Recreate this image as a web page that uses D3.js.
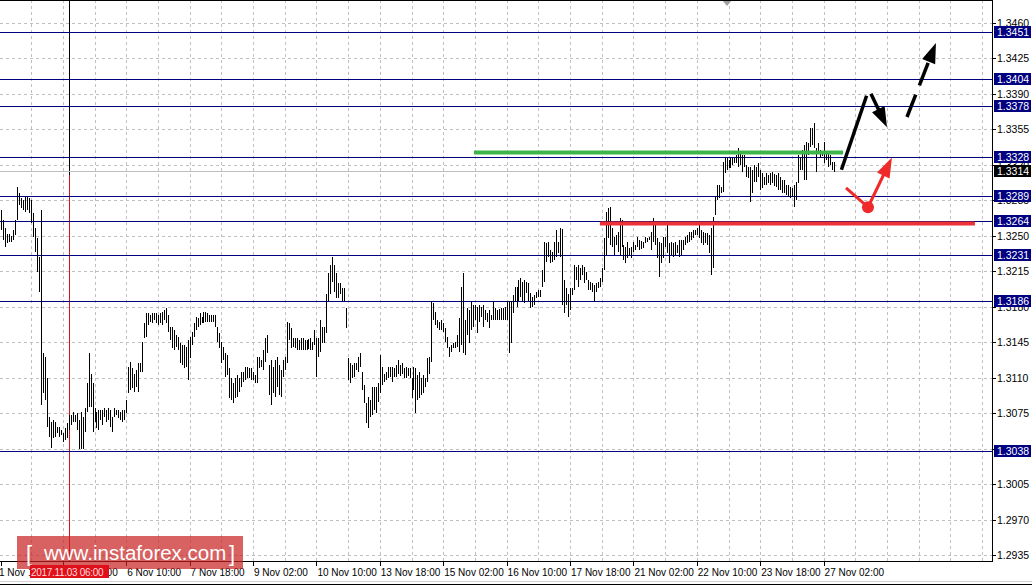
<!DOCTYPE html>
<html><head><meta charset="utf-8">
<script src="https://cdn.jsdelivr.net/npm/d3@7/dist/d3.min.js"></script>
<style>
body{margin:0;background:#fff}
svg{display:block}
text{font-family:"Liberation Sans",Arial,sans-serif}
</style>
</head><body>
<svg id="c" width="1032" height="585"></svg>
<script>
// ---- DATA (H1 bars) ----
const highs = [
1.3275,1.3265,1.3258,1.3252,1.3252,1.3250,1.3256,1.3265,1.3298,1.3292,
1.3287,1.3285,1.3288,1.3288,1.3287,1.3285,1.3272,1.3258,1.3248,1.3229,
1.3275,1.3134,1.3130,1.3110,1.3071,1.3066,1.3068,1.3066,1.3061,1.3061,
1.3058,1.3055,1.3060,1.3065,1.3073,1.3073,1.3076,1.3073,1.3075,1.3068,
1.3076,1.3071,1.3080,1.3105,1.3134,1.3114,1.3105,1.3080,1.3076,1.3078,
1.3078,1.3078,1.3080,1.3078,1.3080,1.3078,1.3071,1.3080,1.3078,1.3078,
1.3076,1.3078,1.3078,1.3088,1.3120,1.3125,1.3119,1.3114,1.3117,1.3124,
1.3124,1.3145,1.3164,1.3174,1.3174,1.3172,1.3174,1.3174,1.3174,1.3172,
1.3174,1.3175,1.3177,1.3179,1.3172,1.3160,1.3160,1.3157,1.3152,1.3150,
1.3144,1.3142,1.3142,1.3140,1.3147,1.3150,1.3155,1.3164,
1.3170,1.3169,1.3174,1.3170,1.3175,1.3175,1.3174,1.3172,1.3172,1.3172,
1.3172,1.3160,1.3154,1.3145,1.3140,1.3134,1.3132,1.3119,1.3110,1.3105,
1.3110,1.3113,1.3110,1.3115,1.3115,1.3120,1.3120,1.3119,1.3119,1.3115,
1.3113,1.3130,1.3130,1.3127,1.3137,1.3149,1.3152,1.3122,1.3127,1.3120,
1.3127,1.3130,1.3122,1.3117,1.3127,1.3130,1.3165,1.3164,1.3159,1.3149,
1.3149,1.3149,1.3147,1.3149,1.3149,1.3147,1.3147,1.3148,1.3149,1.3145,
1.3157,1.3149,1.3149,1.3167,1.3160,1.3160,1.3192,1.3213,1.3221,1.3229,
1.3221,1.3213,1.3203,1.3203,1.3198,1.3198,1.3179,1.3129,1.3124,1.3122,
1.3124,1.3124,1.3130,1.3134,1.3115,1.3103,1.3085,1.3091,1.3088,1.3101,
1.3101,1.3101,1.3105,1.3132,1.3120,1.3114,1.3115,1.3120,1.3120,1.3120,
1.3119,1.3122,1.3127,1.3122,1.3124,1.3119,1.3120,1.3119,1.3119,1.3110,
1.3120,1.3119,1.3113,1.3115,1.3110,1.3113,1.3110,1.3129,1.3130,1.3186,
1.3184,1.3175,1.3167,1.3165,1.3167,1.3164,1.3159,1.3150,1.3140,
1.3142,1.3144,1.3145,1.3152,1.3169,1.3199,1.3213,1.3167,1.3179,1.3177,
1.3185,1.3182,1.3182,1.3180,1.3182,1.3180,1.3182,1.3177,1.3174,1.3177,
1.3172,1.3186,1.3179,1.3177,1.3178,1.3179,1.3179,1.3180,1.3186,1.3186,
1.3186,1.3191,1.3199,1.3199,1.3206,1.3208,1.3204,1.3206,1.3204,1.3203,
1.3193,1.3189,1.3191,1.3194,1.3196,1.3196,1.3216,1.3244,1.3243,1.3244,
1.3236,1.3234,1.3244,1.3256,1.3244,1.3258,
1.3257,1.3206,1.3198,1.3192,1.3198,1.3198,1.3221,1.3219,1.3221,1.3218,
1.3221,1.3219,1.3214,1.3206,1.3204,1.3203,1.3201,1.3203,1.3204,1.3208,
1.3218,1.3248,1.3273,1.3277,1.3278,1.3258,1.3249,1.3251,1.3254,1.3267,
1.3265,1.3241,1.3239,1.3244,1.3238,1.3239,1.3244,1.3241,1.3249,1.3246,
1.3245,1.3244,1.3249,1.3248,1.3249,1.3254,1.3267,1.3260,1.3248,1.3244,
1.3243,1.3249,1.3249,1.3260,1.3243,1.3244,1.3243,1.3244,1.3241,1.3246,
1.3246,1.3246,1.3249,1.3251,1.3254,1.3254,1.3256,1.3256,1.3258,1.3262,
1.3256,1.3254,1.3253,1.3253,1.3251,1.3258,1.3268,
1.3288,1.3300,1.3300,1.3298,1.3323,1.3328,1.3327,1.3325,1.3327,1.3328,
1.3327,1.3330,1.3336,1.3332,1.3330,1.3330,1.3320,1.3318,1.3318,1.3315,
1.3320,1.3318,1.3322,1.3315,1.3312,1.3308,1.3312,1.3310,1.3312,1.3313,
1.3311,1.3310,1.3312,1.3308,1.3305,1.3305,1.3300,1.3300,1.3298,1.3297,
1.3300,1.3303,1.3330,1.3328,1.3334,1.3339,1.3342,1.3341,1.3356,1.3356,
1.3361,1.3336,1.3341,1.3334,1.3332,1.3342,1.3332,1.3332,1.3330,1.3323,1.3323
];
const lows = [
1.3256,1.3246,1.3239,1.3243,1.3244,1.3244,1.3246,1.3251,1.3265,1.3280,
1.3277,1.3275,1.3273,1.3275,1.3272,1.3262,1.3249,1.3234,1.3214,1.3194,
1.3083,1.3095,1.3088,1.3061,1.3051,1.3041,1.3050,1.3051,1.3055,1.3051,
1.3053,1.3046,1.3048,1.3050,1.3058,1.3063,1.3066,1.3066,1.3058,1.3040,
1.3040,1.3040,1.3056,1.3076,1.3081,1.3081,1.3056,1.3066,1.3060,1.3058,
1.3068,1.3063,1.3071,1.3066,1.3068,1.3061,1.3056,1.3071,1.3073,1.3070,
1.3068,1.3066,1.3068,1.3075,1.3095,1.3098,1.3100,1.3096,1.3101,1.3096,
1.3115,1.3115,1.3149,1.3150,1.3162,1.3165,1.3164,1.3167,1.3164,1.3162,
1.3164,1.3162,1.3167,1.3164,1.3155,1.3147,1.3139,1.3137,1.3140,1.3137,
1.3124,1.3122,1.3119,1.3120,1.3108,1.3129,1.3142,1.3150,
1.3157,1.3160,1.3162,1.3164,1.3164,1.3165,1.3165,1.3165,1.3165,1.3165,
1.3160,1.3145,1.3139,1.3124,1.3127,1.3111,1.3113,1.3090,1.3088,1.3085,
1.3090,1.3091,1.3096,1.3101,1.3106,1.3108,1.3110,1.3110,1.3108,1.3108,
1.3105,1.3105,1.3119,1.3120,1.3117,1.3125,1.3134,1.3093,1.3083,1.3095,
1.3091,1.3101,1.3093,1.3091,1.3111,1.3117,1.3124,1.3147,1.3139,1.3140,
1.3139,1.3137,1.3137,1.3137,1.3137,1.3137,1.3137,1.3138,1.3137,1.3137,
1.3142,1.3111,1.3130,1.3135,1.3144,1.3144,1.3154,1.3186,1.3192,1.3204,
1.3194,1.3188,1.3188,1.3192,1.3186,1.3186,1.3159,1.3108,1.3105,1.3110,
1.3111,1.3117,1.3115,1.3120,1.3098,1.3085,1.3065,1.3060,1.3071,1.3073,
1.3078,1.3075,1.3086,1.3095,1.3103,1.3106,1.3108,1.3110,1.3111,1.3106,
1.3111,1.3111,1.3114,1.3112,1.3114,1.3110,1.3110,1.3112,1.3110,1.3090,
1.3098,1.3075,1.3088,1.3090,1.3093,1.3095,1.3101,1.3106,1.3114,1.3125,
1.3167,1.3162,1.3159,1.3157,1.3157,1.3155,1.3145,1.3139,1.3130,
1.3135,1.3139,1.3139,1.3140,1.3135,1.3142,1.3134,1.3132,1.3152,1.3144,
1.3157,1.3160,1.3167,1.3154,1.3165,1.3170,1.3160,1.3167,1.3165,1.3159,
1.3167,1.3167,1.3167,1.3167,1.3167,1.3167,1.3167,1.3167,1.3167,1.3134,
1.3144,1.3174,1.3185,1.3180,1.3186,1.3189,1.3186,1.3184,1.3193,1.3186,
1.3179,1.3180,1.3182,1.3188,1.3189,1.3189,1.3199,1.3204,1.3224,1.3229,
1.3223,1.3224,1.3226,1.3229,1.3233,1.3229,
1.3182,1.3174,1.3182,1.3170,1.3177,1.3191,1.3196,1.3206,1.3199,1.3206,
1.3211,1.3203,1.3206,1.3196,1.3196,1.3194,1.3185,1.3194,1.3198,1.3199,
1.3204,1.3216,1.3231,1.3248,1.3241,1.3239,1.3231,1.3241,1.3234,1.3231,
1.3239,1.3226,1.3223,1.3228,1.3231,1.3228,1.3234,1.3236,1.3239,1.3236,
1.3237,1.3238,1.3243,1.3244,1.3246,1.3236,1.3244,1.3241,1.3228,1.3209,
1.3223,1.3228,1.3239,1.3233,1.3223,1.3231,1.3229,1.3231,1.3233,1.3229,
1.3231,1.3236,1.3241,1.3243,1.3244,1.3246,1.3248,1.3251,1.3251,1.3248,
1.3243,1.3241,1.3243,1.3241,1.3233,1.3211,1.3218,
1.3270,1.3285,1.3287,1.3292,1.3293,1.3312,1.3315,1.3317,1.3317,1.3320,
1.3322,1.3322,1.3318,1.3320,1.3313,1.3318,1.3308,1.3307,1.3283,1.3292,
1.3303,1.3303,1.3308,1.3295,1.3297,1.3300,1.3300,1.3302,1.3300,1.3302,
1.3299,1.3298,1.3295,1.3295,1.3292,1.3292,1.3290,1.3288,1.3287,1.3288,
1.3278,1.3285,1.3302,1.3315,1.3315,1.3305,1.3305,1.3330,1.3337,1.3339,
1.3336,1.3313,1.3332,1.3327,1.3329,1.3322,1.3325,1.3318,1.3320,1.3315,1.3313
];
const priceTicks = [1.3460,1.3425,1.3390,1.3355,1.3320,1.3285,1.3250,1.3215,1.3180,1.3145,1.3110,1.3075,1.3040,1.3005,1.2970,1.2935];
const levels = [1.3451,1.3404,1.3378,1.3328,1.3289,1.3264,1.3231,1.3186,1.3038];
const lastPrice = 1.3314;
const timeTickBars = [0,31,63,95,127,159,191,223,255,287,319,351,383,415];
const timeTickLabels = ["1 Nov 19:00","3 Nov 02:00","6 Nov 10:00","7 Nov 18:00","9 Nov 02:00","10 Nov 10:00","13 Nov 18:00","15 Nov 02:00","16 Nov 10:00","17 Nov 18:00","21 Nov 02:00","22 Nov 10:00","23 Nov 18:00","27 Nov 02:00"];
const crosshairBar = 34.3, crosshairLabel = "2017.11.03 06:00";
// analysis annotations (bar index, price)
const resistanceLine = {i0:238.5, i1:424.8, p:1.3332};
const supportLine = {i0:302.1, i1:491.4, p:1.3262};
const bullPath = [[424,1.3315],[436.7,1.3388]];
const pullbackArrow = [[438.9,1.3390],[447.0,1.3357]];
const targetArrow = [[457.1,1.3367],[471.7,1.3440]];
const altDrop = [[426.3,1.3297],[437.4,1.3278]];
const altRise = [[437.4,1.3278],[449.5,1.3327]];

// ---- DRAW ----
const PW = 992, PH = 561;
const svg = d3.select("#c");
const x = d3.scaleLinear().domain([0, 415]).range([1.4, 823.6]);
const y = d3.scaleLinear().domain([1.2935, 1.3460]).range([555, 22.7]);
svg.append("rect").attr("width",1032).attr("height",585).attr("fill","#fff");
svg.append("defs").append("clipPath").attr("id","plot").append("rect").attr("width",PW).attr("height",PH);
const g = svg.append("g").attr("clip-path","url(#plot)");
const px = v => Math.round(v) + 0.5;

// grid
g.selectAll(".hg").data(priceTicks).join("line")
  .attr("x1",0).attr("x2",PW).attr("y1",d=>px(y(d))).attr("y2",d=>px(y(d)))
  .attr("stroke","#c0c0c0").attr("stroke-dasharray","3,3");
g.selectAll(".vg").data(d3.range(15, 505, 16)).join("line")
  .attr("x1",d=>px(x(d))).attr("x2",d=>px(x(d))).attr("y1",0).attr("y2",PH)
  .attr("stroke","#c0c0c0").attr("stroke-dasharray","3,3");

// vertical time marker (black at top, red through the body as in the picture)
const cx = px(x(crosshairBar));
g.append("line").attr("x1",cx).attr("x2",cx).attr("y1",0).attr("y2",175).attr("stroke","#000");
g.append("line").attr("x1",cx).attr("x2",cx).attr("y1",175).attr("y2",PH).attr("stroke","#e0101a");

// level lines
g.selectAll(".lv").data(levels).join("line")
  .attr("x1",0).attr("x2",PW).attr("y1",d=>px(y(d))).attr("y2",d=>px(y(d)))
  .attr("stroke","#000080");
g.append("line").attr("x1",0).attr("x2",PW).attr("y1",px(y(lastPrice))).attr("y2",px(y(lastPrice)))
  .attr("stroke","#c0c0c0");

// bars
g.selectAll(".bar").data(highs.map((h,i)=>({i,h,l:lows[i]}))).join("rect")
  .attr("x",d=>Math.round(x(d.i))).attr("width",1)
  .attr("y",d=>Math.round(y(d.h)))
  .attr("height",d=>Math.max(1, Math.round(y(d.l)) - Math.round(y(d.h))))
  .attr("fill","#000").attr("shape-rendering","crispEdges");

// analysis lines
g.append("line").attr("x1",x(resistanceLine.i0)).attr("x2",x(resistanceLine.i1))
  .attr("y1",y(resistanceLine.p)).attr("y2",y(resistanceLine.p))
  .attr("stroke","#3db54a").attr("stroke-width",4);
g.append("line").attr("x1",x(supportLine.i0)).attr("x2",x(supportLine.i1))
  .attr("y1",y(supportLine.p)).attr("y2",y(supportLine.p))
  .attr("stroke","#ec3237").attr("stroke-width",4);

function seg(pts, color, w, dash){
  const l = g.append("line").attr("x1",x(pts[0][0])).attr("y1",y(pts[0][1]))
    .attr("x2",x(pts[1][0])).attr("y2",y(pts[1][1]))
    .attr("stroke",color).attr("stroke-width",w).attr("stroke-linecap","butt");
  if(dash) l.attr("stroke-dasharray",dash);
  return l;
}
function arrow(pts, color, w, dash){
  const x0=x(pts[0][0]), y0=y(pts[0][1]), x1=x(pts[1][0]), y1=y(pts[1][1]);
  const dx=x1-x0, dy=y1-y0, L=Math.hypot(dx,dy), ux=dx/L, uy=dy/L;
  const hl=20, hw=7;
  const bx=x1-ux*hl, by=y1-uy*hl;
  const l = g.append("line").attr("x1",x0).attr("y1",y0).attr("x2",bx+ux*2).attr("y2",by+uy*2)
    .attr("stroke",color).attr("stroke-width",w);
  if(dash) l.attr("stroke-dasharray",dash);
  g.append("polygon").attr("points",[[x1,y1],[bx-uy*hw,by+ux*hw],[bx+uy*hw,by-ux*hw]].map(p=>p.join(",")).join(" "))
    .attr("fill",color);
}
seg(bullPath, "#000", 3.5);
arrow(pullbackArrow, "#000", 3.5);
arrow(targetArrow, "#000", 3.5, "24,10");
seg(altDrop, "#ee2a2a", 3);
arrow(altRise, "#ee2a2a", 3);
g.append("circle").attr("cx",x(altDrop[1][0])).attr("cy",y(altDrop[1][1])).attr("r",6).attr("fill","#ee2a2a");

// shift marker
svg.append("polygon").attr("points","722,0 732,0 727,6").attr("fill","#a0a0a0");

// frame
svg.append("line").attr("x1",0).attr("x2",PW).attr("y1",0.5).attr("y2",0.5).attr("stroke","#000");
svg.append("line").attr("x1",PW+0.5).attr("x2",PW+0.5).attr("y1",0).attr("y2",PH+1).attr("stroke","#000");
svg.append("line").attr("x1",0).attr("x2",PW+1).attr("y1",PH+0.5).attr("y2",PH+0.5).attr("stroke","#000");

// right axis
const ra = svg.append("g");
ra.selectAll("line").data(priceTicks).join("line")
  .attr("x1",PW+1).attr("x2",PW+4).attr("y1",d=>px(y(d))).attr("y2",d=>px(y(d))).attr("stroke","#000");
ra.selectAll("text").data(priceTicks).join("text")
  .attr("x",997).attr("y",d=>y(d)+4).attr("font-size","10.5px").attr("fill","#000")
  .text(d=>d.toFixed(4));
const lb = svg.append("g");
levels.forEach(v=>{
  lb.append("rect").attr("x",994).attr("y",Math.round(y(v))-6).attr("width",37).attr("height",12).attr("fill","#000080");
  lb.append("text").attr("x",997).attr("y",Math.round(y(v))+4).attr("font-size","10.5px").attr("fill","#fff").text(v.toFixed(4));
});
lb.append("rect").attr("x",994).attr("y",Math.round(y(lastPrice))-6).attr("width",37).attr("height",12).attr("fill","#000");
lb.append("text").attr("x",997).attr("y",Math.round(y(lastPrice))+4).attr("font-size","10.5px").attr("fill","#fff").text(lastPrice.toFixed(4));

// bottom axis
const ba = svg.append("g");
ba.selectAll("line").data(timeTickBars).join("line")
  .attr("x1",d=>px(x(d))).attr("x2",d=>px(x(d))).attr("y1",PH).attr("y2",PH+5).attr("stroke","#000");

// logo
const logo = svg.append("g");
logo.append("rect").attr("x",17).attr("y",536).attr("width",226).attr("height",33).attr("fill","rgba(200,30,30,0.7)");
logo.append("text").attr("x",26).attr("y",561).attr("font-size","22px").attr("fill","#fff").text("[");
logo.append("text").attr("x",44).attr("y",560).attr("font-size","20.5px").attr("fill","#fff").text("www.instaforex.com");
logo.append("text").attr("x",229).attr("y",561).attr("font-size","22px").attr("fill","#fff").text("]");

ba.selectAll("text").data(timeTickBars).join("text")
  .attr("x",(d,i)=> i===0 ? -1 : x(d)+1).attr("y",576).attr("font-size","10px")
  .attr("fill","#000")
  .text((d,i)=>timeTickLabels[i]);

// time marker label
svg.append("rect").attr("x",30).attr("y",565).attr("width",79).attr("height",13).attr("fill","#e0101a");
svg.append("text").attr("x",31).attr("y",576).attr("font-size","10px").attr("letter-spacing","-0.3px")
  .attr("fill","#ffd8d8").text(crosshairLabel);

// window bottom
svg.append("line").attr("x1",0).attr("x2",1032).attr("y1",581.5).attr("y2",581.5).attr("stroke","#d4d4d4");
svg.append("line").attr("x1",0).attr("x2",1032).attr("y1",584.5).attr("y2",584.5).attr("stroke","#000");
</script>
</body></html>
